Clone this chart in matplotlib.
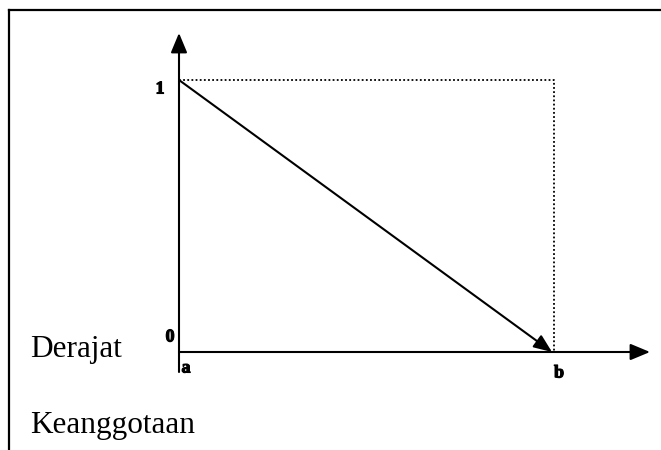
import matplotlib.pyplot as plt
import matplotlib.patheffects as pe
from matplotlib.lines import Line2D

# membership function: falls linearly from 1 at a to 0 at b
x_pts = [0.0, 1.0]
mu_pts = [1.0, 0.0]
x_labels = ["a", "b"]
y_labels = ["0", "1"]
y_title = ["Derajat", "Keanggotaan"]

W, H = 661, 450
fig = plt.figure(figsize=(W / 100, H / 100), dpi=100)

# axes over the whole figure, a->pixel 179, b->pixel 554, mu 0->352, 1->80 (from top)
px0, px1 = 179, 554
py0, py1 = 352, 80
sx = (px1 - px0)
sy = (py0 - py1)
ax = fig.add_axes([0, 0, 1, 1])
ax.set_xlim(-px0 / sx, (W - px0) / sx)
ax.set_ylim((py0 - H) / sy, py0 / sy)
ax.axis("off")

serif = ["Liberation Serif", "DejaVu Serif"]
lw = 1.5

# box around the figure (top and left only)
fig.add_artist(Line2D([8.5 / W, 1], [1 - 9.5 / H, 1 - 9.5 / H], color="black", lw=1.6))
fig.add_artist(Line2D([8.5 / W, 8.5 / W], [0, 1 - 9.5 / H], color="black", lw=1.6))

# coordinate axes with arrowheads
x_end = (650 - px0) / sx
y_end = (py0 - 33) / sy
y_low = (py0 - 372) / sy
head = "-|>,head_length=1.2,head_width=0.5"
ax.annotate("", xy=(x_end, 0), xytext=(x_pts[0], 0),
            arrowprops=dict(arrowstyle=head, color="black", lw=lw, shrinkA=0, shrinkB=0))
ax.annotate("", xy=(0, y_end), xytext=(0, y_low),
            arrowprops=dict(arrowstyle=head, color="black", lw=lw, shrinkA=0, shrinkB=0))

# dotted guide box
ax.plot([x_pts[0], x_pts[1], x_pts[1]], [mu_pts[0], mu_pts[0], mu_pts[1]],
        color="black", lw=1.3, linestyle=(0, (1, 1.3)))

# membership line with arrowhead at b
ax.annotate("", xy=(x_pts[1] - 2 / sx, mu_pts[1]), xytext=(x_pts[0], mu_pts[0]),
            arrowprops=dict(arrowstyle="-|>,head_length=1.1,head_width=0.45",
                            color="black", lw=lw, shrinkA=0, shrinkB=0))

# tick labels (heavy, slightly stroked like the original)
thick = [pe.withStroke(linewidth=0.8, foreground="black")]
lab = dict(family=serif, weight="heavy", fontsize=13, ha="center", va="center",
           path_effects=thick)
ax.text(-19 / sx, mu_pts[0] - 9 / sy, y_labels[1], **lab)
ax.text(-9 / sx, 15 / sy, y_labels[0], **lab)
ax.text(x_pts[0] + 7 / sx, -16 / sy, x_labels[0], **lab)
ax.text(x_pts[1] + 5 / sx, -21 / sy, x_labels[1], **lab)

# axis title, split over two lines
ax.text(-(px0 - 30) / sx, (py0 - 357) / sy, y_title[0], family=serif,
        fontsize=22.5, ha="left", va="baseline")
ax.text(-(px0 - 30) / sx, (py0 - 433) / sy, y_title[1], family=serif,
        fontsize=22.5, ha="left", va="baseline")

fig.savefig("out.png", dpi=100)
